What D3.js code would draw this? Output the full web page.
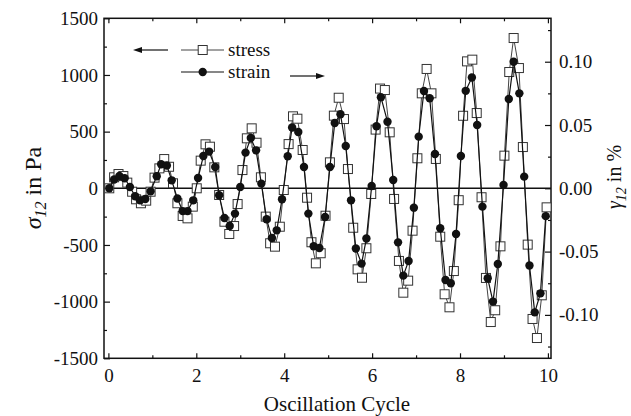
<!DOCTYPE html>
<html>
<head>
<meta charset="utf-8">
<script src="https://cdn.jsdelivr.net/npm/d3@7"></script>
<style>
  body { margin: 0; background: #fff; }
  text { font-family: "Liberation Serif", "Times New Roman", serif; fill: #111; }
</style>
</head>
<body>
<div id="chart"></div>
<script>
// stress (left axis, Pa)
const stressCycle = [0.02, 0.13, 0.23, 0.34, 0.43, 0.54, 0.63, 0.74, 0.86, 0.96,
  1.05, 1.16, 1.27, 1.38, 1.47, 1.57, 1.69, 1.80, 1.92, 2.01,
  2.10, 2.21, 2.31, 2.41, 2.52, 2.64, 2.75, 2.86, 2.94, 3.05,
  3.15, 3.26, 3.37, 3.47, 3.58, 3.68, 3.79, 3.90, 3.99, 4.10,
  4.20, 4.30, 4.42, 4.52, 4.62, 4.72, 4.83, 4.94, 5.04, 5.13,
  5.24, 5.36, 5.45, 5.57, 5.67, 5.77, 5.87, 5.98, 6.08, 6.18,
  6.29, 6.40, 6.50, 6.61, 6.71, 6.82, 6.92, 7.03, 7.13, 7.24,
  7.35, 7.45, 7.55, 7.65, 7.76, 7.86, 7.97, 8.07, 8.16, 8.28,
  8.38, 8.49, 8.59, 8.70, 8.80, 8.92, 9.01, 9.12, 9.22, 9.34,
  9.43, 9.54, 9.65, 9.75, 9.86, 9.97];
const stressPa = [0, 97, 126, 108, 50, -30, -97, -132, -109, -30,
  94, 176, 258, 190, 44, -132, -244, -265, -162, 0,
  244, 388, 367, 185, -59, -295, -403, -333, -139, 161,
  441, 529, 402, 97, -250, -485, -515, -339, -15, 390,
  635, 614, 338, -83, -476, -662, -573, -242, 229, 641,
  799, 611, 170, -348, -715, -789, -529, -50, 518, 880,
  867, 494, -94, -641, -921, -815, -374, 265, 838, 1053,
  838, 259, -427, -935, -1050, -730, -105, 640, 1120, 1135,
  664, -79, -791, -1180, -1076, -512, 288, 1026, 1326, 1061,
  364, -497, -1153, -1321, -944, -168];

// strain (right axis, %)
const strainCycle = [0.02, 0.13, 0.25, 0.37, 0.49, 0.61, 0.72, 0.84, 0.96, 1.10,
  1.20, 1.33, 1.44, 1.57, 1.69, 1.80, 1.93, 2.04, 2.16, 2.29,
  2.43, 2.52, 2.64, 2.76, 2.88, 3.00, 3.12, 3.24, 3.36, 3.48,
  3.60, 3.72, 3.83, 3.95, 4.08, 4.18, 4.32, 4.45, 4.55, 4.67,
  4.80, 4.93, 5.04, 5.15, 5.28, 5.40, 5.52, 5.63, 5.76, 5.87,
  5.99, 6.10, 6.20, 6.35, 6.48, 6.59, 6.71, 6.83, 6.95, 7.06,
  7.18, 7.31, 7.43, 7.55, 7.67, 7.79, 7.91, 8.02, 8.13, 8.27,
  8.39, 8.51, 8.63, 8.75, 8.86, 8.99, 9.11, 9.22, 9.35, 9.46,
  9.58, 9.70, 9.83, 9.95];
const strainPct = [0, 0.0069, 0.0097, 0.0079, 0.001, -0.0063, -0.0095, -0.0085, -0.0024, 0.0095,
  0.019, 0.018, 0.0063, -0.0081, -0.018, -0.018, -0.0095, 0.0081, 0.0255, 0.029,
  0.0168, -0.0055, -0.0235, -0.0298, -0.020, 0.001, 0.0282, 0.0397, 0.030, 0.0037,
  -0.0245, -0.0393, -0.0332, -0.0087, 0.0253, 0.048, 0.0445, 0.0168, -0.020, -0.0458,
  -0.0472, -0.0227, 0.0168, 0.0516, 0.0585, 0.0334, -0.0095, -0.0476, -0.0595, -0.0397,
  0.0018, 0.049, 0.072, 0.0526, 0.0066, -0.0427, -0.069, -0.0574, -0.0153, 0.0408,
  0.0769, 0.0711, 0.0271, -0.0316, -0.0724, -0.075, -0.0361, 0.0255, 0.077, 0.0875,
  0.05, -0.0145, -0.0711, -0.0895, -0.0598, 0.0026, 0.0705, 0.100, 0.075, 0.0092,
  -0.061, -0.098, -0.083, -0.022];

const xTicks = [0, 2, 4, 6, 8, 10];
const xMinor = [1, 3, 5, 7, 9];
const leftTicks = [-1500, -1000, -500, 0, 500, 1000, 1500];
const leftMinor = [-1250, -750, -250, 250, 750, 1250];
const rightTicks = [-0.10, -0.05, 0, 0.05, 0.10];
const rightMinor = [-0.125, -0.075, -0.025, 0.025, 0.075, 0.125];

const width = 631;
const height = 416;
const plot = { left: 104, right: 551, top: 18.3, bottom: 358.3 };

const svg = d3.select('#chart')
  .append('svg')
  .attr('width', width)
  .attr('height', height);

const x = d3.scaleLinear().domain([-0.1, 10.07]).range([plot.left, plot.right]);
const yL = d3.scaleLinear().domain([-1500, 1500]).range([plot.bottom, plot.top]);
const yR = d3.scaleLinear().domain([-0.1343, 0.1343]).range([plot.bottom, plot.top]);

// zero line
svg.append('line')
  .attr('x1', plot.left).attr('x2', plot.right)
  .attr('y1', yL(0)).attr('y2', yL(0))
  .attr('stroke', '#111').attr('stroke-width', 1.4);

// axes, ticks pointing inwards
const styleAxis = (g) => {
  g.select('.domain').remove();
  g.selectAll('line').attr('stroke', '#111').attr('stroke-width', 1.2);
  g.selectAll('text').attr('font-size', 19).attr('fill', '#111')
    .style('font-family', '"Liberation Serif", "Times New Roman", serif');
};

svg.append('g')
  .attr('transform', `translate(0, ${plot.bottom})`)
  .call(d3.axisBottom(x).tickValues(xTicks).tickSize(-5).tickPadding(0).tickFormat(d3.format('d')))
  .call(styleAxis)
  .call((g) => g.selectAll('text').attr('dy', null).attr('y', 23.5));
svg.append('g')
  .attr('transform', `translate(0, ${plot.bottom})`)
  .call(d3.axisBottom(x).tickValues(xMinor).tickSize(-3).tickFormat(''))
  .call(styleAxis);
svg.append('g')
  .attr('transform', `translate(0, ${plot.top})`)
  .call(d3.axisTop(x).tickValues(xTicks).tickSize(-5).tickFormat(''))
  .call(styleAxis);
svg.append('g')
  .attr('transform', `translate(0, ${plot.top})`)
  .call(d3.axisTop(x).tickValues(xMinor).tickSize(-3).tickFormat(''))
  .call(styleAxis);

svg.append('g')
  .attr('transform', `translate(${plot.left}, 0)`)
  .call(d3.axisLeft(yL).tickValues(leftTicks).tickSize(-6).tickPadding(6).tickFormat((d) => String(d)))
  .call(styleAxis);
svg.append('g')
  .attr('transform', `translate(${plot.left}, 0)`)
  .call(d3.axisLeft(yL).tickValues(leftMinor).tickSize(-3).tickFormat(''))
  .call(styleAxis);

svg.append('g')
  .attr('transform', `translate(${plot.right}, 0)`)
  .call(d3.axisRight(yR).tickValues(rightTicks).tickSize(-6).tickPadding(8).tickFormat((d) => d.toFixed(2)))
  .call(styleAxis);
svg.append('g')
  .attr('transform', `translate(${plot.right}, 0)`)
  .call(d3.axisRight(yR).tickValues(rightMinor).tickSize(-3).tickFormat(''))
  .call(styleAxis);

// frame
svg.append('rect')
  .attr('x', plot.left).attr('y', plot.top)
  .attr('width', plot.right - plot.left).attr('height', plot.bottom - plot.top)
  .attr('fill', 'none').attr('stroke', '#111').attr('stroke-width', 1.5);

const stressData = stressCycle.map((c, i) => ({ c, v: stressPa[i] }));
const strainData = strainCycle.map((c, i) => ({ c, v: strainPct[i] }));

// stress series: grey line, open squares
svg.append('path')
  .datum(stressData)
  .attr('fill', 'none')
  .attr('stroke', '#444')
  .attr('stroke-width', 1)
  .attr('d', d3.line().x((d) => x(d.c)).y((d) => yL(d.v)));

svg.append('g')
  .selectAll('rect')
  .data(stressData)
  .join('rect')
  .attr('x', (d) => x(d.c) - 4.5)
  .attr('y', (d) => yL(d.v) - 4.5)
  .attr('width', 9)
  .attr('height', 9)
  .attr('fill', '#fff')
  .attr('stroke', '#333')
  .attr('stroke-width', 1);

// strain series: black line, filled circles
svg.append('path')
  .datum(strainData)
  .attr('fill', 'none')
  .attr('stroke', '#111')
  .attr('stroke-width', 1.2)
  .attr('d', d3.line().x((d) => x(d.c)).y((d) => yR(d.v)));

svg.append('g')
  .selectAll('circle')
  .data(strainData)
  .join('circle')
  .attr('cx', (d) => x(d.c))
  .attr('cy', (d) => yR(d.v))
  .attr('r', 4.2)
  .attr('fill', '#111');

// legend
const legend = svg.append('g');
legend.append('line').attr('x1', 181).attr('x2', 224).attr('y1', 50).attr('y2', 50)
  .attr('stroke', '#444').attr('stroke-width', 1);
legend.append('rect').attr('x', 198.2).attr('y', 45.5).attr('width', 9).attr('height', 9)
  .attr('fill', '#fff').attr('stroke', '#333');
legend.append('text').attr('x', 228).attr('y', 55.5).attr('font-size', 19).text('stress');
legend.append('line').attr('x1', 181).attr('x2', 224).attr('y1', 72).attr('y2', 72)
  .attr('stroke', '#111').attr('stroke-width', 1.2);
legend.append('circle').attr('cx', 202.7).attr('cy', 72).attr('r', 4.2).attr('fill', '#111');
legend.append('text').attr('x', 228).attr('y', 77.5).attr('font-size', 19).text('strain');

// arrows pointing at the axis each series belongs to
const arrow = (x1, x2, y) => {
  const dir = Math.sign(x2 - x1);
  legend.append('line').attr('x1', x1).attr('x2', x2 - dir * 6).attr('y1', y).attr('y2', y)
    .attr('stroke', '#111').attr('stroke-width', 1.2);
  legend.append('path')
    .attr('d', `M${x2},${y} L${x2 - dir * 9},${y - 3} L${x2 - dir * 9},${y + 3} Z`)
    .attr('fill', '#111');
};
arrow(168, 133, 50);
arrow(290, 325, 76);

// axis titles
svg.append('text')
  .attr('x', 337).attr('y', 411)
  .attr('text-anchor', 'middle')
  .attr('font-size', 21)
  .text('Oscillation Cycle');

const leftTitle = svg.append('text')
  .attr('transform', 'translate(41, 188) rotate(-90)')
  .attr('text-anchor', 'middle')
  .attr('font-size', 24);
leftTitle.append('tspan').attr('font-style', 'italic').text('σ');
leftTitle.append('tspan').attr('font-style', 'italic').attr('font-size', 16).attr('dy', 5).text('12');
leftTitle.append('tspan').attr('dy', -5).text(' in Pa');

const rightTitle = svg.append('text')
  .attr('transform', 'translate(621, 177) rotate(-90)')
  .attr('text-anchor', 'middle')
  .attr('font-size', 20);
rightTitle.append('tspan').attr('font-style', 'italic').text('γ');
rightTitle.append('tspan').attr('font-style', 'italic').attr('font-size', 14).attr('dy', 5).text('12');
rightTitle.append('tspan').attr('dy', -5).text(' in %');
</script>
</body>
</html>
